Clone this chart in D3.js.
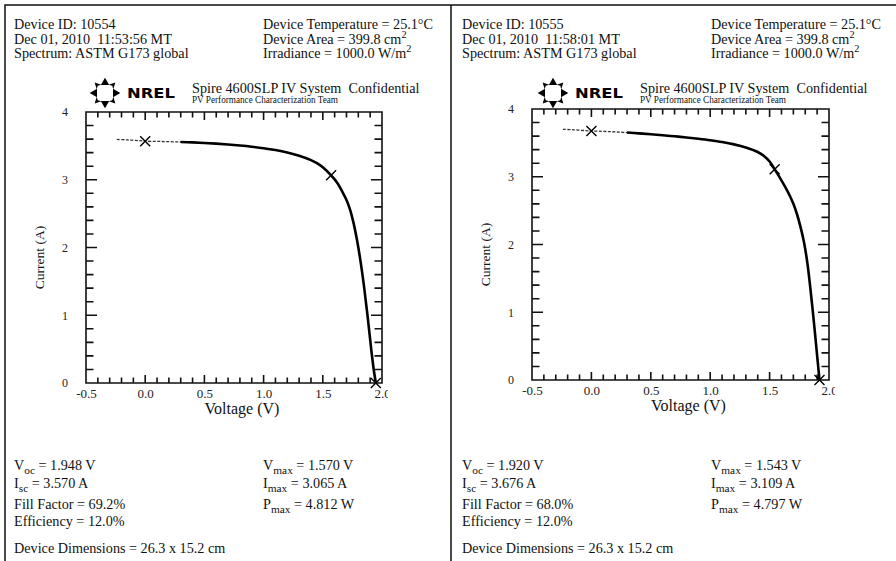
<!DOCTYPE html>
<html><head><meta charset="utf-8">
<script src="https://cdn.jsdelivr.net/npm/d3@7"></script>
<style>body{margin:0;background:#fff}svg{display:block}text{white-space:pre}</style>
</head><body>
<svg id="chart" width="896" height="561"></svg>
<script>
// ---------- DATA ----------
const voltageA = [-0.24,-0.15,-0.05,0.00,0.10,0.20,0.30,0.40,0.50,0.60,0.70,0.80,0.90,1.00,1.10,1.20,1.30,1.40,1.45,1.50,1.57,1.62,1.66,1.70,1.73,1.76,1.79,1.82,1.85,1.88,1.91,1.93,1.948];
const currentA = [3.595,3.588,3.576,3.570,3.566,3.562,3.557,3.551,3.543,3.533,3.521,3.506,3.488,3.466,3.438,3.402,3.355,3.290,3.245,3.185,3.065,2.960,2.840,2.700,2.560,2.360,2.100,1.780,1.400,0.960,0.480,0.200,0.0];
const voltageB = [-0.24,-0.15,-0.05,0.00,0.10,0.20,0.30,0.40,0.50,0.60,0.70,0.80,0.90,1.00,1.10,1.20,1.30,1.40,1.45,1.50,1.543,1.59,1.63,1.67,1.70,1.73,1.76,1.79,1.82,1.85,1.88,1.90,1.920];
const currentB = [3.700,3.693,3.681,3.676,3.670,3.662,3.652,3.640,3.628,3.613,3.597,3.580,3.560,3.538,3.512,3.478,3.432,3.365,3.310,3.225,3.109,2.975,2.855,2.720,2.600,2.450,2.260,2.030,1.700,1.240,0.730,0.360,0.0];
// key points: Isc, (Vmax,Imax), Voc
const keyVA = [0.0, 1.570, 1.948], keyIA = [3.570, 3.065, 0.0];
const keyVB = [0.0, 1.543, 1.920], keyIB = [3.676, 3.109, 0.0];

const xTickValues = [-0.5, 0.0, 0.5, 1.0, 1.5, 2.0];
const yTickValues = [0, 1, 2, 3, 4];
const xMinorTicks = [-0.5,-0.4,-0.3,-0.2,-0.1,0.0,0.1,0.2,0.3,0.4,0.5,0.6,0.7,0.8,0.9,1.0,1.1,1.2,1.3,1.4,1.5,1.6,1.7,1.8,1.9,2.0];
const yMinorTicks = [0,0.2,0.4,0.6,0.8,1,1.2,1.4,1.6,1.8,2,2.2,2.4,2.6,2.8,3,3.2,3.4,3.6,3.8,4];
const xDomain = [-0.5, 2.0], yDomain = [0, 4];

const headerA = ["Device ID: 10554", "Dec 01, 2010  11:53:56 MT", "Spectrum: ASTM G173 global"];
const headerB = ["Device ID: 10555", "Dec 01, 2010  11:58:01 MT", "Spectrum: ASTM G173 global"];
const condA = ["Device Temperature = 25.1°C", "Device Area = 399.8 cm|2", "Irradiance = 1000.0 W/m|2"];
const condB = condA;
const resultsA = ["V_oc = 1.948 V", "I_sc = 3.570 A", "Fill Factor = 69.2%", "Efficiency = 12.0%"];
const resultsB = ["V_oc = 1.920 V", "I_sc = 3.676 A", "Fill Factor = 68.0%", "Efficiency = 12.0%"];
const maxA = ["V_max = 1.570 V", "I_max = 3.065 A", "P_max = 4.812 W"];
const maxB = ["V_max = 1.543 V", "I_max = 3.109 A", "P_max = 4.797 W"];
const dimsText = "Device Dimensions = 26.3 x 15.2 cm";
const systemText = "Spire 4600SLP IV System  Confidential";
const teamText = "PV Performance Characterization Team";

// ---------- LAYOUT ----------
const panels = [
  {ox: 0,   plot: {x0: 86,  x1: 382, y0: 112, y1: 383}, V: voltageA, I: currentA, kV: keyVA, kI: keyIA, head: headerA, cond: condA, res: resultsA, mx: maxA, logo: [105, 93]},
  {ox: 448, plot: {x0: 532, x1: 829, y0: 109, y1: 380}, V: voltageB, I: currentB, kV: keyVB, kI: keyIB, head: headerB, cond: condB, res: resultsB, mx: maxB, logo: [553, 93]}
];

const svg = d3.select("#chart");
const SERIF = "'Liberation Serif','Times New Roman',serif";
const INK = "#111";
const FS = 14.2;

svg.append("rect").attr("x", 0).attr("y", 0).attr("width", 896).attr("height", 561).attr("fill", "#fff");
// frame lines
svg.append("path").attr("d", "M5,561V5H896M451,5V561").attr("fill", "none").attr("stroke", INK).attr("stroke-width", 1.5);

// rich text: "_xx" subscript, "|x" superscript
function rich(g, x, y, str, size) {
  const t = g.append("text").attr("x", x).attr("y", y).attr("font-family", SERIF)
    .attr("font-size", size).attr("fill", INK);
  let m;
  if ((m = str.match(/^([^_]+)_(\S+)(.*)$/))) {
    t.append("tspan").text(m[1]);
    t.append("tspan").attr("dy", 4).attr("font-size", size * 0.8).text(m[2]);
    t.append("tspan").attr("dy", -4).text(m[3]);
  } else if ((m = str.match(/^(.*)\|(.*)$/))) {
    t.append("tspan").text(m[1]);
    t.append("tspan").attr("dy", -6).attr("font-size", size * 0.72).text(m[2]);
  } else t.text(str);
  return t;
}

const defs = svg.append("defs");

panels.forEach((p, pi) => {
  const g = svg.append("g");
  const ox = p.ox;
  const hy = [29, 44, 58];
  p.head.forEach((s, i) => rich(g, 14 + ox, hy[i], s, FS));
  p.cond.forEach((s, i) => rich(g, 263 + ox, hy[i], s, FS));

  // logo
  const [lx, ly] = p.logo;
  const lg = g.append("g").attr("transform", `translate(${lx},${ly})`);
  d3.range(8).forEach(k => {
    const a = k * Math.PI / 4 - Math.PI / 2;
    const r = 11.5;
    const cx = r * Math.cos(a), cy = r * Math.sin(a);
    const deg = k * 45 - 90;
    const shape = k % 2 === 0 ? "M-3.5,-4.2 L3.8,0 L-3.5,4.2 Z" : "M-3,-3.2 L3.2,0 L-3,3.2 L-1.2,0 Z";
    lg.append("path").attr("d", shape)
      .attr("transform", `translate(${cx},${cy}) rotate(${deg})`).attr("fill", "#000");
  });
  g.append("text").attr("x", lx + 22).attr("y", ly + 5).attr("font-family", "'DejaVu Sans',sans-serif")
    .attr("font-weight", "bold").attr("font-size", 14).attr("textLength", 48).attr("lengthAdjust","spacingAndGlyphs")
    .attr("fill", "#000").text("NREL");
  g.append("text").attr("x", 192 + ox).attr("y", 93).attr("font-family", SERIF).attr("font-size", FS)
    .attr("fill", INK).text(systemText);
  g.append("text").attr("x", 192 + ox).attr("y", 103).attr("font-family", SERIF).attr("font-size", 9.5)
    .attr("textLength", 146).attr("lengthAdjust","spacingAndGlyphs").attr("fill", INK).text(teamText);

  // scales
  const P = p.plot;
  const x = d3.scaleLinear().domain(xDomain).range([P.x0, P.x1]);
  const y = d3.scaleLinear().domain(yDomain).range([P.y1, P.y0]);

  const isMajX = v => xTickValues.some(t => Math.abs(t - v) < 1e-6);
  const isMajY = v => yTickValues.some(t => Math.abs(t - v) < 1e-6);
  const fmtX = v => d3.format(".1f")(v).replace("\u2212", "-");
  const lenX = d => isMajX(d) ? 8 : 5.5;
  const lenY = d => isMajY(d) ? 11 : 7.5;

  // frame + inward ticks in ONE path
  let d = `M${P.x0},${P.y0}H${P.x1}V${P.y1}H${P.x0}Z`;
  xMinorTicks.forEach(v => {
    const px = x(v);
    d += `M${px},${P.y1}V${P.y1 - lenX(v)}`;
    d += `M${px},${P.y0}V${P.y0 + lenX(v)}`;
  });
  yMinorTicks.forEach(v => {
    const py = y(v);
    d += `M${P.x0},${py}H${P.x0 + lenY(v)}`;
    d += `M${P.x1},${py}H${P.x1 - lenY(v)}`;
  });
  g.append("path").attr("d", d).attr("fill", "none").attr("stroke", INK).attr("stroke-width", 1.6);

  // tick labels via d3 axes (clipped at the right edge like the reference)
  function styleAxis(sel) {
    sel.select(".domain").remove();
    sel.selectAll("line").remove();
    sel.selectAll("text").attr("font-family", SERIF).attr("fill", "#222");
  }
  const cid = "lblclip" + pi;
  defs.append("clipPath").attr("id", cid).append("rect")
    .attr("x", P.x0 - 60).attr("y", P.y0 - 20).attr("width", P.x1 - P.x0 + 66).attr("height", P.y1 - P.y0 + 40);
  const labels = g.append("g").attr("clip-path", `url(#${cid})`);
  labels.append("g").attr("transform", `translate(0,${P.y1})`)
    .call(d3.axisBottom(x).tickValues(xTickValues).tickSize(0).tickPadding(6).tickFormat(fmtX))
    .call(styleAxis).selectAll("text").attr("font-size", 13);
  g.append("g").attr("transform", `translate(${P.x0},0)`)
    .call(d3.axisLeft(y).tickValues(yTickValues).tickSize(0).tickPadding(18).tickFormat(d3.format("d")))
    .call(styleAxis).selectAll("text").attr("font-size", 12);

  // axis titles
  g.append("text").attr("x", (P.x0 + P.x1) / 2 + 8).attr("y", P.y1 + 31).attr("text-anchor", "middle")
    .attr("font-family", SERIF).attr("font-size", 16).attr("fill", INK).text("Voltage (V)");
  g.append("text").attr("transform", `translate(${P.x0 - 42},${(P.y0 + P.y1) / 2 + 10}) rotate(-90)`)
    .attr("text-anchor", "middle").attr("font-family", SERIF).attr("font-size", 13.5).attr("fill", INK).text("Current (A)");

  // curve
  const pts = p.V.map((v, i) => [v, p.I[i]]);
  const split = 0.35;
  const thin = pts.filter(q => q[0] <= split + 0.06);
  const thick = pts.filter(q => q[0] >= split - 0.06);
  const line = d3.line().x(q => x(q[0])).y(q => y(q[1])).curve(d3.curveCatmullRom);
  g.append("path").attr("d", line(thin)).attr("fill", "none").attr("stroke", "#333")
    .attr("stroke-width", 1.3).attr("stroke-dasharray", "3,1.5");
  g.append("path").attr("d", line(thick))
    .attr("fill", "none").attr("stroke", "#000").attr("stroke-width", 2.6).attr("stroke-linejoin", "round");

  // markers
  p.kV.forEach((v, i) => {
    const cx = x(v), cy = y(p.kI[i]), s = 5;
    g.append("path").attr("d", `M${cx - s},${cy - s}L${cx + s},${cy + s}M${cx - s},${cy + s}L${cx + s},${cy - s}`)
      .attr("fill", "none").attr("stroke", "#000").attr("stroke-width", 1.4);
  });

  // results
  const ry = [470, 488, 509, 526];
  p.res.forEach((s, i) => rich(g, 14 + ox, ry[i], s, FS));
  p.mx.forEach((s, i) => rich(g, 263 + ox, ry[i], s, FS));
  rich(g, 14 + ox, 553, dimsText, FS);
});
</script>
</body></html>
